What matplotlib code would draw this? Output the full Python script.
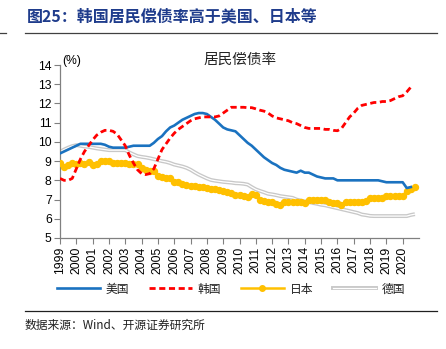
import numpy as np
import matplotlib
matplotlib.use("Agg")
import matplotlib.pyplot as plt
from matplotlib.lines import Line2D

plt.rcParams['font.family'] = ['Liberation Sans', 'Noto Sans CJK SC', 'DejaVu Sans']

# Quarterly household debt-service ratios (%), starting 1999Q1
us = [9.4, 9.5, 9.6, 9.7,
      9.8, 9.9, 9.9, 9.9,
      9.9, 9.9, 9.9, 9.85,
      9.75, 9.7, 9.7, 9.7,
      9.7, 9.75, 9.8, 9.8,
      9.8, 9.8, 9.8, 9.95,
      10.15, 10.3, 10.55, 10.75,
      10.85, 11.0, 11.15, 11.25,
      11.35, 11.45, 11.5, 11.5,
      11.45, 11.3, 11.15, 10.95,
      10.75, 10.65, 10.6, 10.55,
      10.35, 10.15, 9.95, 9.8,
      9.6, 9.4, 9.2, 9.05,
      8.9, 8.8, 8.65, 8.55,
      8.5, 8.45, 8.4, 8.5,
      8.4, 8.4, 8.3, 8.2,
      8.15, 8.1, 8.1, 8.1,
      8.0, 8.0, 8.0, 8.0,
      8.0, 8.0, 8.0, 8.0,
      8.0, 8.0, 8.0, 7.95,
      7.9, 7.9, 7.9, 7.9,
      7.9, 7.6, 7.65]

korea = [8.1, 8.0, 8.0, 8.1,
         8.6, 9.1, 9.5, 9.8,
         10.1, 10.35, 10.5, 10.6,
         10.6, 10.55, 10.4, 10.1,
         9.8, 9.3, 8.9, 8.55,
         8.35, 8.3, 8.35, 8.6,
         9.1, 9.6, 9.9, 10.2,
         10.45, 10.65, 10.8, 10.95,
         11.1, 11.2, 11.25, 11.3,
         11.3, 11.3, 11.3, 11.35,
         11.5, 11.65, 11.8, 11.8,
         11.8, 11.8, 11.78, 11.78,
         11.72, 11.65, 11.6, 11.5,
         11.35, 11.25, 11.2, 11.15,
         11.1, 11.0, 10.95, 10.85,
         10.75, 10.7, 10.7, 10.7,
         10.7, 10.65, 10.65, 10.6,
         10.58, 10.7, 11.0, 11.3,
         11.5, 11.75, 11.9, 11.95,
         12.0, 12.05, 12.05, 12.1,
         12.1, 12.15, 12.25, 12.35,
         12.4, 12.6, 12.85]

japan = [8.92, 8.7, 8.8, 8.88,
         8.83, 8.92, 8.83, 8.94,
         8.8, 8.85, 9.02, 9.0,
         9.0, 8.92, 8.92, 8.92,
         8.92, 8.85, 8.83, 8.83,
         8.62, 8.55, 8.5, 8.5,
         8.22, 8.15, 8.1, 8.1,
         7.92, 7.9, 7.8, 7.75,
         7.72, 7.7, 7.66, 7.63,
         7.6, 7.55, 7.53, 7.5,
         7.45, 7.4, 7.32, 7.25,
         7.23, 7.18, 7.14, 7.28,
         7.23, 7.0, 6.95, 6.88,
         6.85, 6.75, 6.72, 6.85,
         6.85, 6.85, 6.85, 6.85,
         6.8, 6.97, 6.97, 6.97,
         6.97, 6.97, 6.85, 6.82,
         6.8, 6.72, 6.85, 6.85,
         6.85, 6.85, 6.85, 6.9,
         7.06, 7.06, 7.06, 7.06,
         7.18, 7.18, 7.18, 7.18,
         7.18, 7.45, 7.53, 7.66]

germany = [9.49, 9.6, 9.7, 9.78,
           9.83, 9.8, 9.76, 9.74,
           9.7, 9.66, 9.63, 9.6,
           9.57, 9.57, 9.57, 9.57,
           9.57, 9.45, 9.35, 9.26,
           9.22, 9.19, 9.15, 9.1,
           9.05, 9.0, 8.96, 8.9,
           8.82, 8.77, 8.72, 8.65,
           8.55, 8.42, 8.3, 8.2,
           8.1, 8.02, 7.98, 7.95,
           7.92, 7.9, 7.88, 7.85,
           7.84, 7.82, 7.78, 7.65,
           7.53, 7.45, 7.38, 7.3,
           7.27, 7.23, 7.18, 7.15,
           7.12, 7.09, 7.0, 6.95,
           6.9, 6.88, 6.82, 6.78,
           6.73, 6.7, 6.65, 6.6,
           6.55, 6.5, 6.45, 6.4,
           6.35, 6.3, 6.22, 6.19,
           6.15, 6.14, 6.14, 6.14,
           6.14, 6.14, 6.14, 6.14,
           6.14, 6.14, 6.2, 6.24]

years = list(range(1999, 2021))
series_names = ['美国', '韩国', '日本', '德国']


def quarters(n):
    return 1999 + np.arange(n) / 4.0


W, H = 446, 349
fig = plt.figure(figsize=(W / 100, H / 100), dpi=100)
ax = fig.add_axes([60 / W, 1 - 238 / H, (419 - 60) / W, (238 - 65) / H])

cjk = ['Noto Sans CJK SC', 'DejaVu Sans']

# Germany: light gray double line
ax.plot(quarters(len(germany)), germany, color='#C8C8C8', lw=2.8,
        solid_capstyle='butt', zorder=2)
ax.plot(quarters(len(germany)), germany, color='white', lw=0.9,
        solid_capstyle='butt', zorder=2.1)
# Japan: yellow with dots
ax.plot(quarters(len(japan)), japan, color='#FFC000', lw=1.8, marker='o',
        markersize=4.3, zorder=3)
# US
ax.plot(quarters(len(us)), us, color='#1A72C0', lw=1.9, zorder=4)
# Korea: red dashed
ax.plot(quarters(len(korea)), korea, color='#FF0000', lw=2.0,
        dashes=(2.2, 1.3), zorder=5)

ax.set_xlim(1999, 2021)
ax.set_ylim(5, 14)
ax.set_yticks(range(5, 15))
ax.set_xticks(years)
ax.set_xticklabels([str(y) for y in years], rotation=90)
ax.tick_params(axis='both', labelsize=8.7, length=4, width=0.8,
               direction='out', pad=2, colors='#808080', labelcolor='black')
for s in ['top', 'right']:
    ax.spines[s].set_visible(False)
for s in ['left', 'bottom']:
    ax.spines[s].set_color('#808080')
    ax.spines[s].set_linewidth(0.9)

fig.text(62 / W, 1 - 61 / H, '(%)', fontsize=8.7, ha='left', va='center')
fig.text(240 / W, 1 - 60 / H, '居民偿债率', fontsize=10.5, family=cjk,
         ha='center', va='center', color='#222222')

# Title and rules
fig.text(27 / W, 1 - 16 / H, '图25：韩国居民偿债率高于美国、日本等', fontsize=11.5,
         family=cjk, fontweight='bold', color='#1F3C8C', ha='left', va='center')
fig.add_artist(Line2D([25 / W, 437 / W], [1 - 33 / H] * 2, color='#404040', lw=0.9))
fig.add_artist(Line2D([0, 6 / W], [1 - 33 / H] * 2, color='#404040', lw=0.9))
fig.add_artist(Line2D([25 / W, 437 / W], [1 - 311 / H] * 2, color='#202020', lw=0.9))
fig.text(25 / W, 1 - 325 / H, '数据来源：Wind、开源证券研究所', fontsize=8.5,
         family=cjk, color='#202020', ha='left', va='center')

# Legend
handles = [
    Line2D([], [], color='#1A72C0', lw=1.9),
    Line2D([], [], color='#FF0000', lw=2.0, dashes=(2.2, 1.3)),
    Line2D([], [], color='#FFC000', lw=1.8, marker='o', markersize=4,
           markevery=[1]),
    (Line2D([], [], color='#C8C8C8', lw=2.8), Line2D([], [], color='white', lw=0.9)),
]
leg = fig.legend(handles, series_names, loc='center', ncol=4,
                 bbox_to_anchor=(231 / W, 1 - 289 / H), frameon=False,
                 prop={'family': cjk, 'size': 8.5}, handlelength=3.6,
                 columnspacing=1.7, handletextpad=0.5)
for t in leg.get_texts():
    t.set_color('#202020')

fig.savefig('out.png', dpi=100)
